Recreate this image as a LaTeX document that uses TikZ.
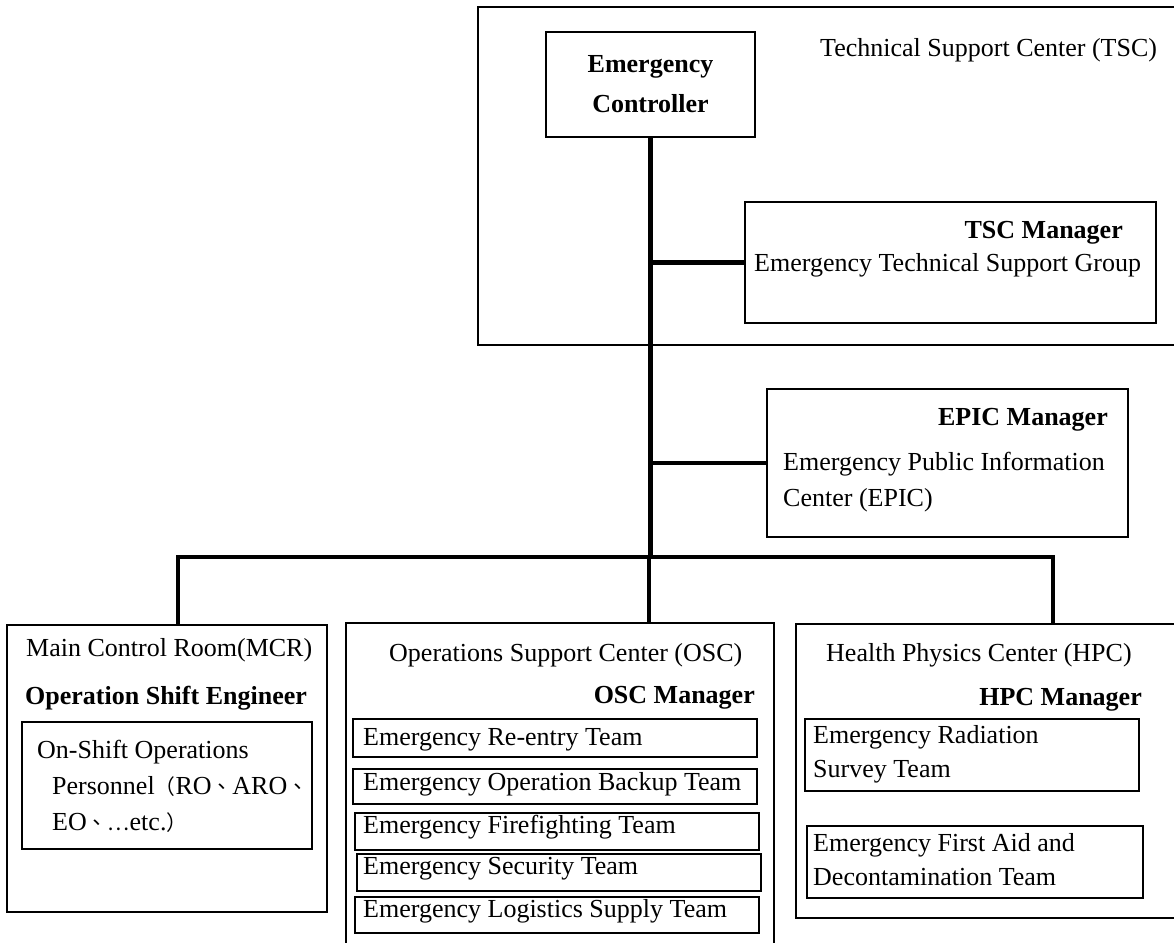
\documentclass[tikz,border=0pt]{standalone}
\usepackage{fontspec}
\setmainfont{Liberation Serif}
\newfontfamily\cjk[Scale=0.8]{Noto Sans CJK TC}
\usepackage{tikz}
\usetikzlibrary{positioning}

\begin{document}
\begin{tikzpicture}[x=1pt, y=-1pt, font=\fontsize{26}{36}\selectfont,
    box/.style={draw, line width=1.3pt, inner sep=0pt, outer sep=0pt, anchor=north west},
    lbl/.style={inner sep=0pt, anchor=west},
    bold/.style={font=\fontsize{26}{36}\selectfont\bfseries},
    tight/.style={font=\fontsize{26}{34}\selectfont},
    team/.style={box, minimum width=404pt},
    conn/.style={line width=4.2pt, line join=miter}]
    \useasboundingbox (0,0) rectangle (1174,942);

    % Technical Support Center
    \node[box, minimum width=720pt, minimum height=338pt] (tsc) at (478,7) {};
    \node[lbl] (tsctitle) at (820,50) {Technical Support Center (TSC)};
    \node[box, minimum width=209pt, minimum height=105pt, align=center,
        font=\fontsize{26}{40}\selectfont\bfseries] (ctrl) at (546,32) {Emergency\\Controller};
    \node[box, minimum width=411pt, minimum height=121pt] (tscmgr) at (745,202) {};
    \node[lbl, bold, anchor=east] (tscmgrname) at (1123,233) {TSC Manager};
    \node[lbl] (tscgroup) at (754,265) {Emergency Technical Support Group};

    % Public information center
    \node[box, minimum width=361pt, minimum height=148pt] (epic) at (767,389) {};
    \node[lbl, bold, anchor=east] (epicmgr) at (1108,420) {EPIC Manager};
    \node[lbl, align=left] (epictext) at (783,482) {Emergency Public Information\\Center (EPIC)};

    % Main control room
    \node[box, minimum width=320pt, minimum height=287pt] (mcr) at (7,625) {};
    \node[lbl] (mcrtitle) at (26,650) {Main Control Room(MCR)};
    \node[lbl, bold] (mcrlead) at (25,698) {Operation Shift Engineer};
    \node[box, minimum width=290pt, minimum height=127pt] (mcrcrew) at (22,722) {};
    \node[lbl, align=left] (mcrcrewtext) at (37,786) {On-Shift Operations\\
        \hspace*{15pt}Personnel{\cjk （}RO{\cjk 、}ARO{\cjk 、}\\
        \hspace*{15pt}EO{\cjk 、…}etc.{\cjk ）}};

    % Operations support center
    \node[box, minimum width=428pt, minimum height=340pt] (osc) at (346,623) {};
    \node[lbl] (osctitle) at (389,655) {Operations Support Center (OSC)};
    \node[lbl, bold, anchor=east] (oscmgr) at (755,698) {OSC Manager};
    \node[team, minimum height=38pt] (reentry) at (353,719) {};
    \node[team, minimum height=35pt] (backup) at (353,769) {};
    \node[team, minimum height=37pt] (firefight) at (355,813) {};
    \node[team, minimum height=37pt] (security) at (357,854) {};
    \node[team, minimum height=36pt] (logistics) at (355,897) {};
    \node[lbl] (reentrytext) at (363,740) {Emergency Re-entry Team};
    \node[lbl] (backuptext) at (363,784) {Emergency Operation Backup Team};
    \node[lbl] (firefighttext) at (363,827) {Emergency Firefighting Team};
    \node[lbl] (securitytext) at (363,869) {Emergency Security Team};
    \node[lbl] (logisticstext) at (363,911) {Emergency Logistics Supply Team};

    % Health physics center
    \node[box, minimum width=400pt, minimum height=294pt] (hpc) at (796,624) {};
    \node[lbl] (hpctitle) at (826,655) {Health Physics Center (HPC)};
    \node[lbl, bold, anchor=east] (hpcmgr) at (1142,700) {HPC Manager};
    \node[box, minimum width=334pt, minimum height=72pt] (survey) at (805,719) {};
    \node[lbl, tight, align=left] (surveytext) at (813,754) {Emergency Radiation\\Survey Team};
    \node[box, minimum width=336pt, minimum height=72pt] (firstaid) at (807,826) {};
    \node[lbl, tight, align=left] (firstaidtext) at (813,860) {Emergency First Aid and\\Decontamination Team};

    % Connections
    \coordinate (busL) at (178,557);
    \coordinate (busM) at (649,557);
    \coordinate (busR) at (1053,557);
    \draw[conn] (ctrl.south) -- (ctrl.south |- busM);
    \draw[conn] (tscmgr.west) -- (tscmgr.west -| ctrl.south);
    \draw[conn] (epic.west) -- (epic.west -| ctrl.south);
    \draw[conn] (mcr.north -| busL) -- (busL) -- (busR) -- (hpc.north -| busR);
    \draw[conn] (busM) -- (osc.north -| busM);

\end{tikzpicture}
\end{document}
